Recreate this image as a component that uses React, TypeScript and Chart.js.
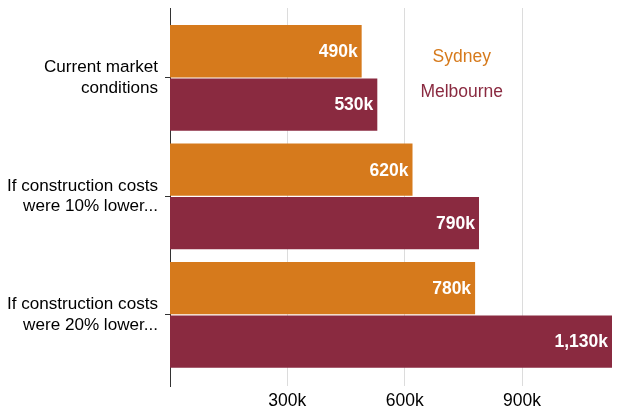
import React, { useEffect, useRef } from 'react';
import { Chart, registerables, Plugin } from 'chart.js';

Chart.register(...registerables);

const categories: string[][] = [
  ['Current market', 'conditions'],
  ['If construction costs', 'were 10% lower...'],
  ['If construction costs', 'were 20% lower...'],
];
const seriesNames = ['Sydney', 'Melbourne'];
const sydney = [490, 620, 780];
const melbourne = [530, 790, 1130];
const xTicks = [300, 600, 900];
const colors = ['#D67A1C', '#8A2A40'];

const FONT = "'Liberation Sans', Arial, Helvetica, sans-serif";
const SIZE = 17.5;

const fmt = (v: number) => `${v.toLocaleString('en-US')}k`;

// white value labels inside the end of each bar
const valueLabels: Plugin<'bar'> = {
  id: 'valueLabels',
  afterDatasetsDraw(chart) {
    const { ctx } = chart;
    ctx.save();
    ctx.font = `bold ${SIZE}px ${FONT}`;
    ctx.fillStyle = '#fff';
    ctx.textAlign = 'right';
    ctx.textBaseline = 'middle';
    chart.data.datasets.forEach((ds, di) => {
      chart.getDatasetMeta(di).data.forEach((bar: any, i) => {
        const raw: any = ds.data[i];
        ctx.fillText(fmt(raw.x), bar.x - 4, bar.y + 1);
      });
    });
    ctx.restore();
  },
};

// series names written inside the plot, in their colours
const textLegend: Plugin<'bar'> = {
  id: 'textLegend',
  afterDraw(chart) {
    const { ctx, chartArea } = chart;
    const x = chartArea.left + chartArea.width * 0.66;
    ctx.save();
    ctx.font = `${SIZE}px ${FONT}`;
    ctx.textAlign = 'center';
    ctx.textBaseline = 'middle';
    seriesNames.forEach((name, i) => {
      ctx.fillStyle = colors[i];
      ctx.fillText(name, x, chartArea.top + 49 + i * 35);
    });
    ctx.restore();
  },
};

export default function App() {
  const chartRef = useRef<HTMLCanvasElement>(null);
  const chartInstance = useRef<Chart | null>(null);

  useEffect(() => {
    if (!chartRef.current) return;
    if (chartInstance.current) chartInstance.current.destroy();

    chartInstance.current = new Chart(chartRef.current, {
      type: 'bar',
      data: {
        datasets: [
          {
            label: seriesNames[0],
            data: sydney.map((v, i) => ({ x: v, y: i })) as any,
            backgroundColor: colors[0],
            categoryPercentage: 0.9,
            barPercentage: 0.98,
          },
          {
            label: seriesNames[1],
            data: melbourne.map((v, i) => ({ x: v, y: i })) as any,
            backgroundColor: colors[1],
            categoryPercentage: 0.9,
            barPercentage: 0.98,
          },
        ],
      },
      options: {
        indexAxis: 'y',
        animation: false,
        responsive: true,
        maintainAspectRatio: false,
        layout: { padding: 0 },
        plugins: {
          legend: { display: false },
          tooltip: { enabled: false },
        },
        scales: {
          x: {
            type: 'linear',
            min: 0,
            max: 1130,
            afterBuildTicks: (s) => {
              s.ticks = xTicks.map((v) => ({ value: v }));
            },
            afterFit: (s) => {
              s.height = 24;
            },
            grid: { color: '#dcdcdc', drawTicks: false },
            border: { display: false },
            ticks: {
              padding: 5,
              color: '#000',
              font: { family: FONT, size: SIZE },
              callback: (v) => fmt(Number(v)),
            },
          },
          y: {
            type: 'linear',
            reverse: true,
            offset: false,
            min: -0.59,
            max: 2.6,
            afterBuildTicks: (s) => {
              s.ticks = categories.map((_, i) => ({ value: i }));
            },
            afterFit: (s) => {
              s.width = 170;
              s.paddingTop = 0;
              s.paddingBottom = 0;
            },
            grid: { offset: false, drawOnChartArea: false, tickLength: 5, color: '#333' },
            border: { display: true, color: '#333', width: 1 },
            ticks: {
              padding: 7,
              color: '#000',
              font: { family: FONT, size: 17.1, lineHeight: 1.2 },
              callback: (v) => categories[Number(v)] as any,
            },
          },
        },
      },
      plugins: [valueLabels, textLegend],
    });

    return () => {
      if (chartInstance.current) {
        chartInstance.current.destroy();
        chartInstance.current = null;
      }
    };
  }, []);

  return (
    <div style={{ width: 612, height: 402, marginLeft: -8 }}>
      <canvas ref={chartRef} />
    </div>
  );
}
